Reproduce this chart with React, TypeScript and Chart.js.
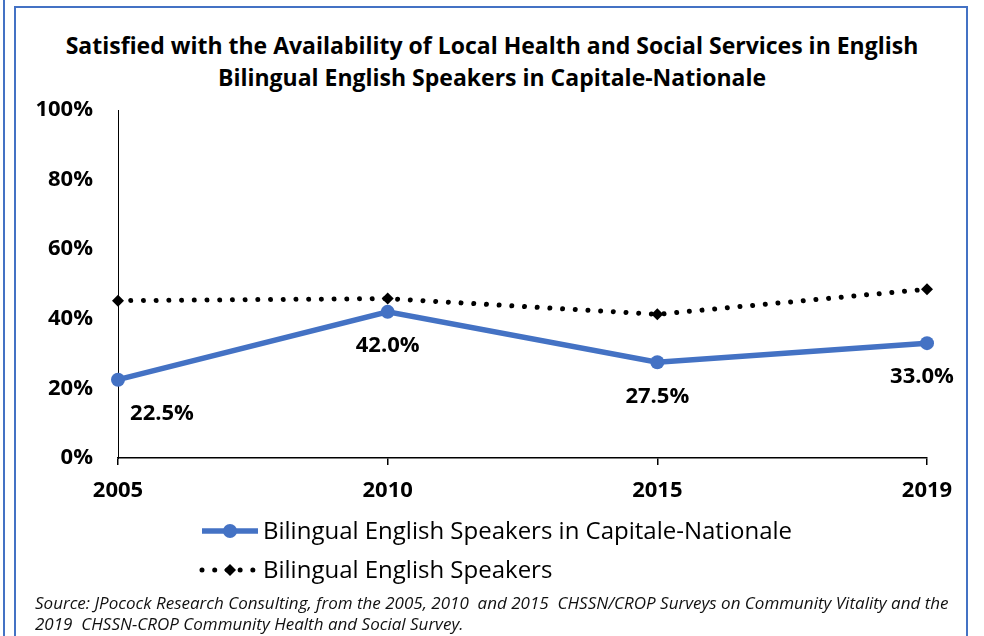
import React, { useEffect, useRef } from "react";
import { Chart, registerables } from "chart.js";
Chart.register(...registerables);

const years = ["2005", "2010", "2015", "2019"];
const capitaleNationale = [22.5, 42.0, 27.5, 33.0];
const bilingualEnglish = [45.2, 45.8, 41.3, 48.5];
const seriesNames = ["Bilingual English Speakers in Capitale-Nationale", "Bilingual English Speakers"];
const yTickStep = 20;
const titleLines = [
  "Satisfied with the Availability of Local Health and Social Services in English",
  "Bilingual English Speakers in Capitale-Nationale",
];
const sourceLines = [
  "Source: JPocock Research Consulting, from the 2005, 2010  and 2015  CHSSN/CROP Surveys on Community Vitality and the",
  "2019  CHSSN-CROP Community Health and Social Survey.",
];

const BLUE = "#4472C4";
const FONT = "'Open Sans', 'Noto Sans', sans-serif";

const labelShift = [44, 0, 0, -5];

const dataLabelPlugin = {
  id: "dataLabels",
  afterDatasetsDraw(chart: any) {
    const ctx = chart.ctx;
    const meta = chart.getDatasetMeta(0);
    ctx.save();
    ctx.font = `bold 22px ${FONT}`;
    ctx.fillStyle = "#000";
    ctx.textAlign = "center";
    ctx.textBaseline = "middle";
    meta.data.forEach((pt: any, i: number) => {
      const v = chart.data.datasets[0].data[i] as number;
      ctx.fillText(v.toFixed(1) + "%", pt.x + labelShift[i], pt.y + 34);
    });
    ctx.restore();
  },
};

const legendPlugin = {
  id: "customLegend",
  afterDraw(chart: any) {
    const ctx = chart.ctx;
    const x0 = 202, x1 = 258, tx = 263;
    const rows = [531, 570];
    ctx.save();
    chart.data.datasets.forEach((ds: any, i: number) => {
      const y = rows[i];
      ctx.beginPath();
      ctx.strokeStyle = ds.borderColor;
      ctx.lineWidth = ds.borderWidth;
      ctx.lineCap = ds.borderCapStyle || "butt";
      ctx.setLineDash(ds.borderDash || []);
      ctx.moveTo(x0, y);
      ctx.lineTo(x1, y);
      ctx.stroke();
      ctx.setLineDash([]);
      ctx.fillStyle = ds.pointBackgroundColor;
      const mx = (x0 + x1) / 2;
      ctx.beginPath();
      if (ds.pointStyle === "rectRot") {
        const r = ds.pointRadius;
        ctx.moveTo(mx, y - r);
        ctx.lineTo(mx + r, y);
        ctx.lineTo(mx, y + r);
        ctx.lineTo(mx - r, y);
        ctx.closePath();
      } else {
        ctx.arc(mx, y, ds.pointRadius, 0, Math.PI * 2);
      }
      ctx.fill();
      ctx.fillStyle = "#000";
      ctx.font = `24px ${FONT}`;
      ctx.textAlign = "left";
      ctx.textBaseline = "middle";
      ctx.fillText(ds.label, tx, y + 1);
    });
    ctx.restore();
  },
};

function LineChart() {
  const ref = useRef<HTMLCanvasElement>(null);
  useEffect(() => {
    const chart = new Chart(ref.current!, {
      type: "line",
      data: {
        labels: years,
        datasets: [
          {
            label: seriesNames[0],
            data: capitaleNationale,
            borderColor: BLUE,
            borderWidth: 5.5,
            pointStyle: "circle",
            pointRadius: 7,
            pointBackgroundColor: BLUE,
            pointBorderWidth: 0,
            pointBorderColor: BLUE,
          },
          {
            label: seriesNames[1],
            data: bilingualEnglish,
            borderColor: "#000",
            borderWidth: 5,
            borderDash: [0.01, 12.7],
            borderCapStyle: "round",
            pointStyle: "rectRot",
            pointRadius: 6,
            pointBackgroundColor: "#000",
            pointBorderWidth: 0,
            pointBorderColor: "#000",
          },
        ] as any,
      },
      options: {
        animation: false,
        responsive: false,
        devicePixelRatio: 1,
        layout: { padding: { left: 0, right: 57, top: 110, bottom: 0 } },
        plugins: { legend: { display: false }, title: { display: false }, tooltip: { enabled: false } },
        scales: {
          x: {
            offset: false,
            grid: { display: true, drawOnChartArea: false, drawTicks: true, tickLength: 7, color: "#000", lineWidth: 1.5 },
            border: { display: true, color: "#000", width: 1.5 },
            ticks: { color: "#000", font: { family: FONT, size: 22, weight: "bold" }, padding: 13, maxRotation: 0 },
            afterFit: (s: any) => { s.height = 636 - 458; },
          },
          y: {
            min: 0,
            max: 100,
            ticks: {
              stepSize: yTickStep,
              color: "#000",
              font: { family: FONT, size: 22, weight: "bold" },
              padding: 25,
              callback: (v: any) => v + "%",
            },
            grid: { display: false, drawTicks: false },
            border: { display: true, color: "#000", width: 1 },
            afterFit: (s: any) => { s.width = 118; },
          },
        },
      } as any,
      plugins: [dataLabelPlugin, legendPlugin],
    });
    return () => chart.destroy();
  }, []);
  return <canvas ref={ref} width={984} height={636} style={{ position: "absolute", left: 0, top: 0, width: 984, height: 636 }} />;
}

export default function App() {
  return (
    <div style={{ position: "fixed", left: 0, top: 0, width: 984, height: 636, background: "#fff", overflow: "hidden" }}>
      <div style={{ position: "absolute", left: 3, top: 0, width: 2, height: 636, background: BLUE }} />
      <div style={{ position: "absolute", left: 14, top: 6, width: 954, height: 700, border: `2px solid ${BLUE}`, boxSizing: "border-box" }} />
      <div style={{ position: "absolute", left: 15, top: 29, width: 954, textAlign: "center", fontFamily: FONT, fontWeight: "bold", fontSize: 23, lineHeight: "32px", color: "#000" }}>
        {titleLines.map((t, i) => <div key={i}>{t}</div>)}
      </div>
      <LineChart />
      <div style={{ position: "absolute", left: 35, top: 592, fontFamily: FONT, fontStyle: "italic", fontSize: 17, lineHeight: "21px", color: "#111", whiteSpace: "pre" }}>
        {sourceLines.map((t, i) => <div key={i}>{t}</div>)}
      </div>
    </div>
  );
}
